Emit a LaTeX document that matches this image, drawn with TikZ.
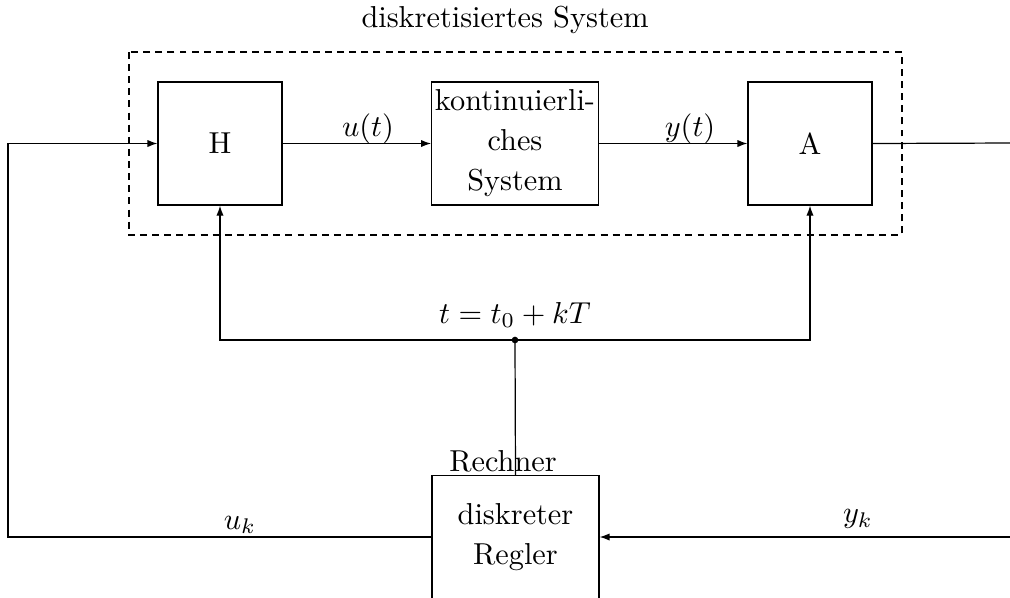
\documentclass[tikz,border=0pt]{standalone}
\usetikzlibrary{arrows.meta}
\begin{document}
\begin{tikzpicture}[x=0.33pt,y=-0.33pt,
  blk/.style={draw,inner sep=0.5pt,align=center,minimum height=40.6pt,font={\fontsize{10}{13.2}\selectfont}},
  conn/.style={-{Latex[length=3.3pt,width=2.4pt]}},
  lbl/.style={inner sep=0pt}]
\useasboundingbox (0,0) rectangle (1010,597);
\draw[dash pattern=on 2.3pt off 1.7pt] (129,52) rectangle (902,235);
\node[lbl] (title) at (505,20) {diskretisiertes System};
\node[blk,minimum width=40.9pt] (H) at (220,143.5) {H};
\node[blk,minimum width=54.8pt,text width=54pt] (K) at (515,143.5) {kontinuierli-\\ches\\System};
\node[blk,minimum width=40.9pt] (A) at (810,143.5) {A};
\node[blk,minimum width=55.1pt,text width=54pt] (R) at (515.5,537) {diskreter\\Regler};
\node[lbl] (rl) at (503,461) {Rechner};
\coordinate (L1) at (8,537);
\coordinate (Rout) at (1010,143);
\coordinate (Rin) at (1010,537);
\coordinate (T) at (515,340);
\fill (T) circle (1.1pt);
\draw[conn] (R.west) -- (L1) |- (H.west);
\draw[conn] (H.east) -- (K.west);
\draw[conn] (K.east) -- (A.west);
\draw (A.east) -- (Rout);
\draw[conn] (Rin) -- (R.east);
\draw[conn] (T) -| (H.south);
\draw[conn] (T) -| (A.south);
\draw (T) -- (R.north);
\node[lbl] (lu) at (368,129) {$u(t)$};
\node[lbl] (ly) at (690,129) {$y(t)$};
\node[lbl] (lt) at (515,315) {$t=t_0+kT$};
\node[lbl] (luk) at (240,525) {$u_k$};
\node[lbl] (lyk) at (858,519) {$y_k$};
\end{tikzpicture}
\end{document}
